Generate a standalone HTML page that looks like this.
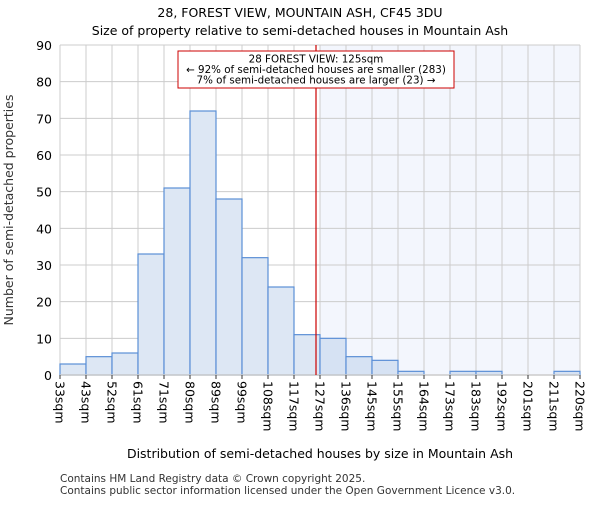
<!DOCTYPE html>
<html><head><meta charset="utf-8"><style>
body{margin:0;background:#fff;}
svg text{font-family:"DejaVu Sans","Liberation Sans",sans-serif;}
</style></head><body>
<svg width="600" height="500" xmlns="http://www.w3.org/2000/svg">
<text x="300" y="17" text-anchor="middle" font-size="12.5" fill="#000">28, FOREST VIEW, MOUNTAIN ASH, CF45 3DU</text>
<text x="300" y="35" text-anchor="middle" font-size="12.5" fill="#000">Size of property relative to semi-detached houses in Mountain Ash</text>
<g id="plot"></g>
<text x="320" y="458" text-anchor="middle" font-size="12.5" fill="#000">Distribution of semi-detached houses by size in Mountain Ash</text>
<text transform="translate(13,210) rotate(-90)" text-anchor="middle" font-size="12.5" fill="#333">Number of semi-detached properties</text>
<text x="60" y="482" font-size="10.5" fill="#333">Contains HM Land Registry data © Crown copyright 2025.</text>
<text x="60" y="494" font-size="10.5" fill="#333">Contains public sector information licensed under the Open Government Licence v3.0.</text>
</svg>
<script>
const binLabels=["33sqm","43sqm","52sqm","61sqm","71sqm","80sqm","89sqm","99sqm","108sqm","117sqm","127sqm","136sqm","145sqm","155sqm","164sqm","173sqm","183sqm","192sqm","201sqm","211sqm","220sqm"];
const counts=[3,5,6,33,51,72,48,32,24,11,10,5,4,1,0,1,1,0,0,1];
const yTicks=[0,10,20,30,40,50,60,70,80,90];
const markerBin=9.7;
const highlightStart=10;
const ns="http://www.w3.org/2000/svg";
const L=60,R=580,T=45,B=375,yMax=90;
const bw=(R-L)/counts.length;
const xs=i=>L+i*bw, ys=v=>B-(v/yMax)*(B-T);
const g=document.getElementById('plot');
function mk(t,a){const e=document.createElementNS(ns,t);for(const k in a)e.setAttribute(k,a[k]);g.appendChild(e);return e;}
let e=mk('rect',{x:xs(highlightStart),y:T,width:R-xs(highlightStart),height:B-T,fill:'#f3f6fd'});


for(let i=0;i<=counts.length;i++){e=mk('line',{x1:xs(i),x2:xs(i),y1:T,y2:B,stroke:'#cccccc','stroke-width':1});

}
yTicks.forEach(v=>{e=mk('line',{x1:L,x2:R,y1:ys(v),y2:ys(v),stroke:'#cccccc','stroke-width':1});


e=mk('text',{x:L-8,y:ys(v)+5,'text-anchor':'end','font-size':'12.5',fill:'#000'});e.textContent=v;

});
counts.forEach((v,i)=>{if(v<=0)return;e=mk('rect',{x:xs(i),y:ys(v),width:bw,height:B-ys(v),fill:i>=highlightStart?'#d6e2f3':'#dde7f4',stroke:'#5b8fd6','stroke-width':1.2});

});
e=mk('line',{x1:L,x2:R,y1:B,y2:B,stroke:'#cccccc','stroke-width':1.5});


binLabels.forEach((s,i)=>{e=mk('line',{x1:xs(i),x2:xs(i),y1:B,y2:B+4,stroke:'#333'});


e=mk('text',{transform:`translate(${xs(i)-4.5},${B+6}) rotate(90)`,'font-size':'12.5',fill:'#000'});e.textContent=s;

});
const mx=xs(markerBin)+(316-xs(9.7));
e=mk('line',{x1:mx,x2:mx,y1:T,y2:B,stroke:'#cc0000','stroke-width':1.2});


e=mk('rect',{x:178,y:51,width:276,height:37,fill:'#fff',stroke:'#cc0000','stroke-width':1});


["28 FOREST VIEW: 125sqm","← 92% of semi-detached houses are smaller (283)","7% of semi-detached houses are larger (23) →"].forEach((s,k)=>{
e=mk('text',{x:316,y:62.5+k*10.5,'text-anchor':'middle','font-size':'10.3',fill:'#000'});e.textContent=s;

});
</script>
</body></html>
